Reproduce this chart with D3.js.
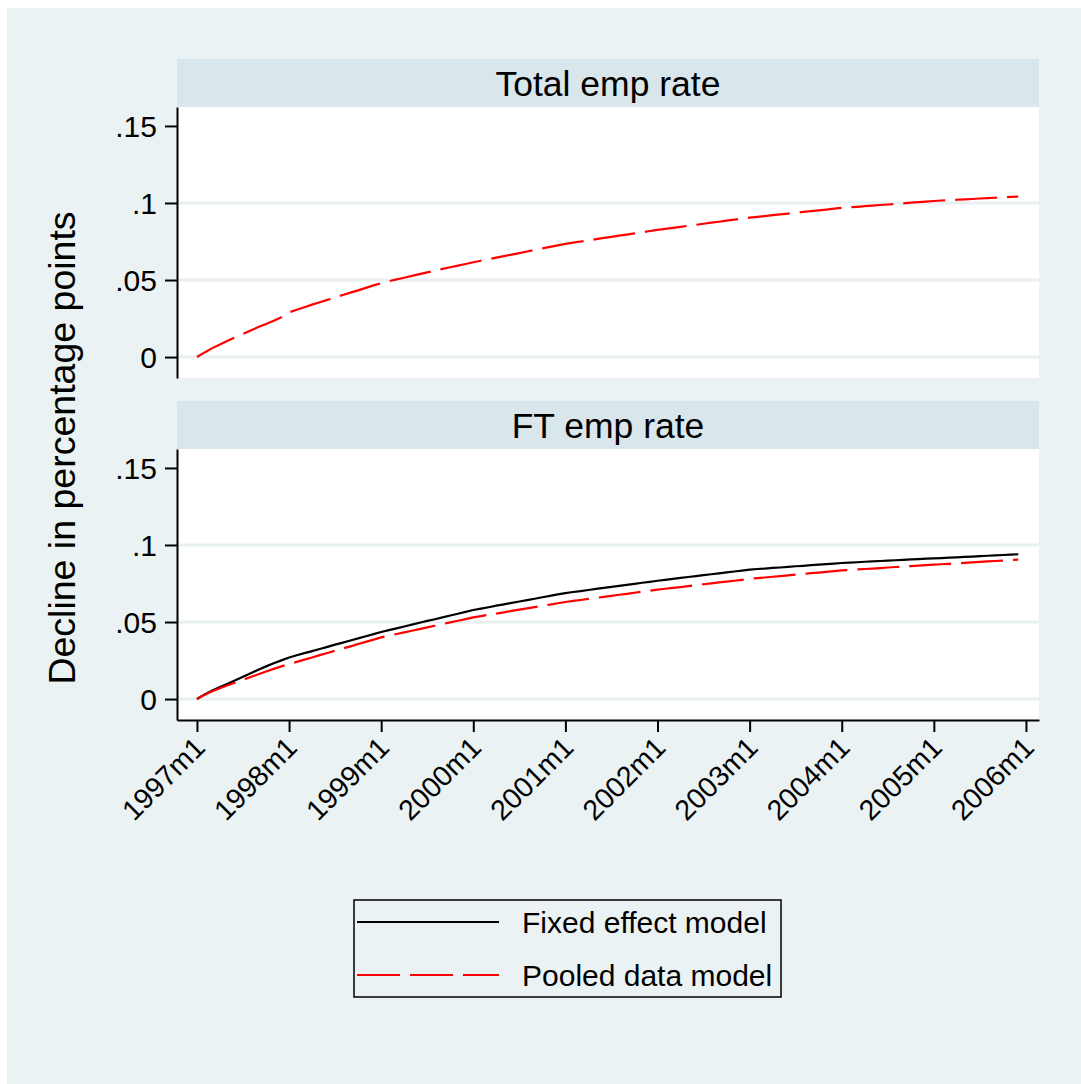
<!DOCTYPE html>
<meta charset="utf-8">
<title>Decline in employment rates</title>
<style>
body {
  margin: 0px;
  background: #fff;
}
svg {
  display: block;
  font-family: "Liberation Sans", Arial, sans-serif;
}
.axis path, .axis line {
  stroke: #000;
  stroke-width: 2px;
}
.axis text {
  fill: #000;
}
</style>
<script src="https://d3js.org/d3.v7.min.js"></script>
<body>
<script>
var width = 1081, height = 1084;

// months since 1997m1 (0 .. 107), year ticks every 12 months
var tickMonths = [0, 12, 24, 36, 48, 60, 72, 84, 96, 108];
var tickLabels = ["1997m1", "1998m1", "1999m1", "2000m1", "2001m1",
                  "2002m1", "2003m1", "2004m1", "2005m1", "2006m1"];
var yTicks = [0, 0.05, 0.1, 0.15];
var panelTitles = ["Total emp rate", "FT emp rate"];
var seriesNames = ["Fixed effect model", "Pooled data model"];

// Total emp rate, pooled data model (fixed effect line not shown in this panel)
var totalPooled = [
  0, .0030, .0058, .0082, .0105, .0128, .0150, .0172, .0195, .0215, .0235, .0258,
  .0290, .0307, .0323, .0340, .0356, .0371, .0387, .0403, .0418, .0433, .0449, .0465,
  .0480, .0492, .0504, .0515, .0527, .0538, .0550, .0561, .0572, .0583, .0593, .0604,
  .0615, .0625, .0635, .0645, .0655, .0665, .0675, .0685, .0695, .0705, .0715, .0725,
  .0735, .0743, .0750, .0758, .0765, .0773, .0780, .0788, .0795, .0803, .0810, .0818,
  .0825, .0832, .0838, .0845, .0852, .0858, .0865, .0872, .0878, .0885, .0892, .0898,
  .0905, .0910, .0915, .0921, .0926, .0931, .0936, .0942, .0947, .0952, .0957, .0963,
  .0968, .0972, .0975, .0979, .0983, .0987, .0990, .0994, .0998, .1002, .1005, .1009,
  .1013, .1016, .1018, .1021, .1024, .1026, .1029, .1031, .1034, .1037, .1039, .1042
];

// FT emp rate, fixed effect model
var ftFixed = [
  0, .0030, .0055, .0078, .0100, .0122, .0145, .0168, .0190, .0212, .0232, .0251,
  .0270, .0284, .0298, .0311, .0325, .0339, .0353, .0366, .0380, .0394, .0408, .0421,
  .0435, .0447, .0459, .0471, .0483, .0495, .0507, .0518, .0530, .0542, .0554, .0566,
  .0578, .0587, .0596, .0606, .0615, .0624, .0633, .0642, .0651, .0661, .0670, .0679,
  .0688, .0695, .0701, .0708, .0715, .0721, .0728, .0735, .0741, .0748, .0755, .0761,
  .0768, .0774, .0780, .0786, .0792, .0798, .0804, .0810, .0816, .0822, .0828, .0834,
  .0840, .0844, .0847, .0851, .0854, .0858, .0862, .0865, .0869, .0872, .0876, .0879,
  .0883, .0886, .0888, .0891, .0893, .0896, .0898, .0901, .0903, .0906, .0908, .0911,
  .0913, .0915, .0918, .0920, .0923, .0925, .0928, .0930, .0933, .0935, .0938, .0940
];

// FT emp rate, pooled data model
var ftPooled = [
  0, .0028, .0050, .0070, .0089, .0107, .0125, .0143, .0161, .0179, .0196, .0212,
  .0227, .0241, .0256, .0270, .0285, .0299, .0314, .0328, .0342, .0357, .0371, .0386,
  .0400, .0411, .0422, .0433, .0443, .0454, .0465, .0476, .0487, .0498, .0508, .0519,
  .0530, .0538, .0547, .0555, .0563, .0572, .0580, .0588, .0597, .0605, .0613, .0622,
  .0630, .0637, .0643, .0650, .0657, .0663, .0670, .0677, .0683, .0690, .0697, .0703,
  .0710, .0716, .0722, .0727, .0733, .0739, .0745, .0751, .0757, .0762, .0768, .0774,
  .0780, .0785, .0789, .0794, .0798, .0803, .0808, .0812, .0817, .0821, .0826, .0830,
  .0835, .0838, .0841, .0844, .0847, .0850, .0854, .0857, .0860, .0863, .0866, .0869,
  .0872, .0875, .0878, .0881, .0884, .0887, .0890, .0893, .0896, .0899, .0902, .0905
];

var bgColor = "#eaf2f3", stripColor = "#d9e6eb", gridColor = "#e8f0f2";
var plotLeft = 177, plotRight = 1039;

var svg = d3.select("body").append("svg")
    .attr("width", width)
    .attr("height", height);

svg.append("rect")
    .attr("x", 7).attr("y", 8)
    .attr("width", width - 7).attr("height", height - 8)
    .attr("fill", bgColor);

var x = d3.scaleLinear()
    .domain([-2.6, 109.7])
    .range([plotLeft, plotRight]);

var line = function(y) {
  return d3.line()
    .x(function(d, i) { return x(i); })
    .y(function(d) { return y(d); });
};

var fmtY = function(d) { return d === 0 ? "0" : String(d).replace("0.", "."); };

// panel layout: strip top, plot top, plot bottom
var panels = [
  {title: panelTitles[0], stripTop: 59, top: 107, bottom: 378, series: [{data: totalPooled, pooled: true}]},
  {title: panelTitles[1], stripTop: 401, top: 449, bottom: 720,
   series: [{data: ftFixed, pooled: false}, {data: ftPooled, pooled: true}], xaxis: true}
];

panels.forEach(function(p) {
  var g = svg.append("g");
  var y = d3.scaleLinear()
      .domain([-0.0136, 0.1623])
      .range([p.bottom, p.top]);

  // strip
  g.append("rect")
      .attr("x", plotLeft).attr("y", p.stripTop)
      .attr("width", plotRight - plotLeft).attr("height", p.top - p.stripTop)
      .attr("fill", stripColor);
  g.append("text")
      .attr("x", (plotLeft + plotRight) / 2)
      .attr("y", (p.stripTop + p.top) / 2)
      .attr("dy", "0.36em")
      .attr("text-anchor", "middle")
      .style("font-size", "35.5px")
      .text(p.title);

  // plot region
  g.append("rect")
      .attr("x", plotLeft).attr("y", p.top)
      .attr("width", plotRight - plotLeft).attr("height", p.bottom - p.top)
      .attr("fill", "#fff");

  // grid lines (not at top tick)
  g.selectAll("line.grid")
      .data(yTicks.filter(function(d) { return d < 0.15; }))
    .enter().append("line")
      .attr("class", "grid")
      .attr("x1", plotLeft).attr("x2", plotRight)
      .attr("y1", function(d) { return y(d); })
      .attr("y2", function(d) { return y(d); })
      .attr("stroke", gridColor)
      .attr("stroke-width", 3);

  // series
  p.series.forEach(function(s) {
    g.append("path")
        .datum(s.data)
        .attr("fill", "none")
        .attr("stroke", s.pooled ? "#ff0000" : "#000")
        .attr("stroke-width", 2.2)
        .attr("stroke-dasharray", s.pooled ? "42,10" : null)
        .attr("d", line(y));
  });

  // y axis
  var ya = g.append("g")
      .attr("class", "axis")
      .attr("transform", "translate(" + plotLeft + ",0)")
      .call(d3.axisLeft(y).tickValues(yTicks).tickFormat(fmtY)
            .tickSize(12).tickSizeOuter(0).tickPadding(8));
  ya.selectAll("text").style("font-size", "30px").attr("dy", "0.36em");

  if (p.xaxis) {
    var xa = g.append("g")
        .attr("class", "axis")
        .attr("transform", "translate(0," + p.bottom + ")")
        .call(d3.axisBottom(x).tickValues(tickMonths)
              .tickFormat(function(d, i) { return tickLabels[i]; })
              .tickSize(12).tickSizeOuter(0));
    xa.selectAll("text")
        .style("font-size", "28.5px")
        .attr("text-anchor", "end")
        .attr("x", 0).attr("y", 0).attr("dy", "0.36em")
        .attr("transform", "translate(2,22) rotate(-45)");
  }
});

// y axis title
svg.append("text")
    .attr("transform", "translate(75,448) rotate(-90)")
    .attr("text-anchor", "middle")
    .style("font-size", "37.5px")
    .text("Decline in percentage points");

// legend
var legend = svg.append("g");
legend.append("rect")
    .attr("x", 354).attr("y", 900)
    .attr("width", 427).attr("height", 97)
    .attr("fill", bgColor)
    .attr("stroke", "#000")
    .attr("stroke-width", 1.5);
var rows = legend.selectAll("g.row")
    .data(seriesNames)
  .enter().append("g")
    .attr("class", "row")
    .attr("transform", function(d, i) { return "translate(0," + (922 + i * 53) + ")"; });
rows.append("line")
    .attr("x1", 357).attr("x2", 499)
    .attr("stroke", function(d, i) { return i ? "#ff0000" : "#000"; })
    .attr("stroke-width", 2)
    .attr("stroke-dasharray", function(d, i) { return i ? "43,10" : null; });
rows.append("text")
    .attr("x", 522).attr("y", 0).attr("dy", "0.36em")
    .style("font-size", "30px")
    .text(function(d) { return d; });
</script>
